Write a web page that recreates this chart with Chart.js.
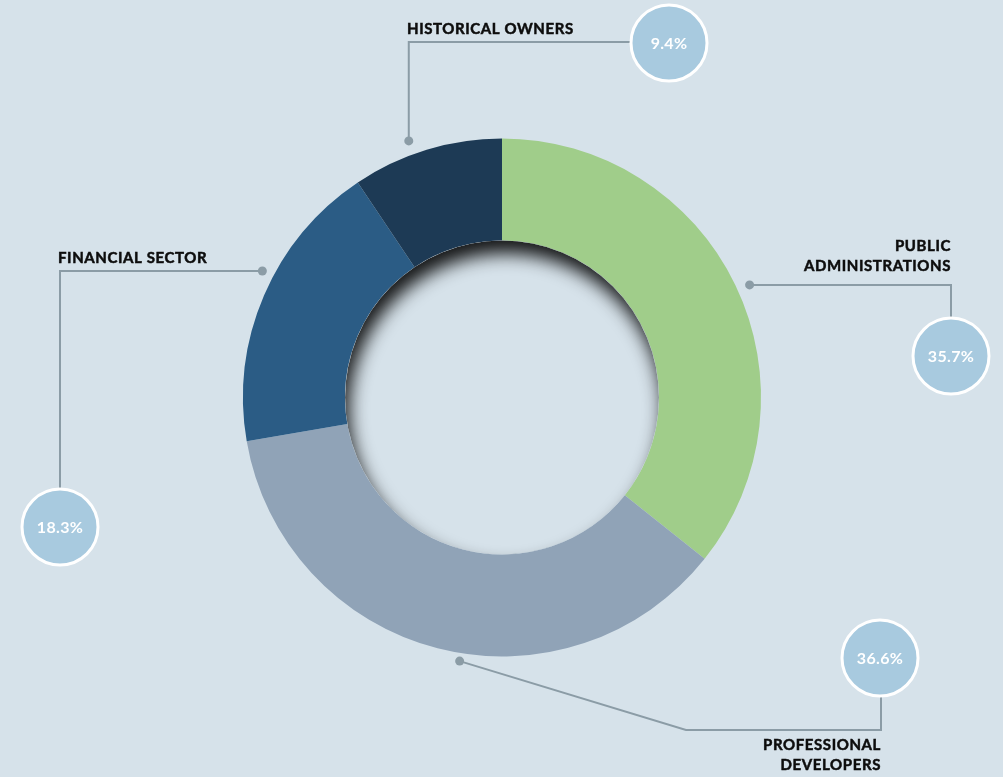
<!DOCTYPE html>
<html>
<head>
<meta charset="utf-8">
<script src="https://cdn.jsdelivr.net/npm/chart.js@4/dist/chart.umd.min.js"></script>
<style>
  html, body { margin: 0; padding: 0; background: #d6e2ea; }
  #wrap { width: 1003px; height: 777px; position: relative; }
</style>
</head>
<body>
<div id="wrap"><canvas id="chart"></canvas></div>
<script>
const categories = ["PUBLIC\nADMINISTRATIONS", "PROFESSIONAL\nDEVELOPERS", "FINANCIAL SECTOR", "HISTORICAL OWNERS"];
const shares = [35.7, 36.6, 18.3, 9.4];
const sliceColors = ['#a0cd8a', '#90a3b7', '#2b5c85', '#1d3a55'];

// callout layout: where along the slice the dot sits, elbow points, bubble centre, text anchor
const callouts = [
  { frac: 0.51, dist: 272, path: [[951, 'dotY'], [951, 317]], bubble: [951, 356], text: [951, 246], align: 'right' },
  { frac: 0.46, dist: 267, path: [[686, 730], [881, 730], [881, 697]], bubble: [880, 658], text: [881, 745], align: 'right' },
  { frac: 0.57, dist: 271, path: [[60, 'dotY'], [60, 488]], bubble: [60, 527], text: [58, 258], align: 'left' },
  { frac: 0.41, dist: 273, path: [['dotX', 42], [630, 42]], bubble: [669, 43], text: [407, 29], align: 'left' }
];

const holeShadow = {
  id: 'holeShadow',
  afterDatasetsDraw(chart) {
    const arc = chart.getDatasetMeta(0).data[0];
    const { x, y, innerRadius } = arc.getProps(['x', 'y', 'innerRadius'], true);
    const ctx = chart.ctx;
    ctx.save();
    ctx.beginPath();
    ctx.arc(x, y, innerRadius, 0, Math.PI * 2);
    ctx.clip();
    ctx.beginPath();
    ctx.arc(x, y, innerRadius + 80, 0, Math.PI * 2);
    ctx.arc(x, y, innerRadius, 0, Math.PI * 2, true);
    ctx.shadowColor = 'rgba(0,0,0,0.9)';
    ctx.shadowBlur = 18;
    ctx.shadowOffsetX = 4;
    ctx.shadowOffsetY = 13;
    ctx.fillStyle = '#d6e2ea';
    ctx.fill();
    ctx.restore();
  }
};

const calloutPlugin = {
  id: 'callouts',
  afterDraw(chart) {
    const ctx = chart.ctx;
    const meta = chart.getDatasetMeta(0);
    meta.data.forEach((arc, i) => {
      const c = callouts[i];
      const p = arc.getProps(['x', 'y', 'startAngle', 'endAngle'], true);
      const a = p.startAngle + (p.endAngle - p.startAngle) * c.frac;
      const dx = p.x + Math.cos(a) * c.dist;
      const dy = p.y + Math.sin(a) * c.dist;

      ctx.save();
      ctx.strokeStyle = '#8b9ca6';
      ctx.lineWidth = 2;
      ctx.beginPath();
      ctx.moveTo(dx, dy);
      c.path.forEach(pt => {
        const px = pt[0] === 'dotX' ? dx : pt[0];
        const py = pt[1] === 'dotY' ? dy : pt[1];
        ctx.lineTo(px, py);
      });
      ctx.stroke();

      ctx.fillStyle = '#8b9ca6';
      ctx.beginPath();
      ctx.arc(dx, dy, 4.5, 0, Math.PI * 2);
      ctx.fill();

      // bubble
      ctx.beginPath();
      ctx.arc(c.bubble[0], c.bubble[1], 38, 0, Math.PI * 2);
      ctx.fillStyle = '#a8cadf';
      ctx.fill();
      ctx.lineWidth = 3;
      ctx.strokeStyle = '#ffffff';
      ctx.stroke();
      ctx.fillStyle = '#ffffff';
      ctx.font = 'bold 16px Lato';
      ctx.letterSpacing = '0.3px';
      ctx.textAlign = 'center';
      ctx.textBaseline = 'middle';
      ctx.fillText(shares[i].toFixed(1) + '%', c.bubble[0], c.bubble[1] + 1);

      // label (thin stroke to thicken the bold face a bit)
      ctx.fillStyle = '#0d0d0d';
      ctx.strokeStyle = '#0d0d0d';
      ctx.lineWidth = 0.5;
      ctx.font = 'bold 15px Lato';
      ctx.letterSpacing = '0.6px';
      ctx.textAlign = c.align;
      const lines = chart.data.labels[i].split('\n');
      lines.forEach((ln, k) => {
        ctx.fillText(ln, c.text[0], c.text[1] + k * 20);
        ctx.strokeText(ln, c.text[0], c.text[1] + k * 20);
      });
      ctx.restore();
    });
  }
};

new Chart(document.getElementById('chart'), {
  type: 'doughnut',
  data: {
    labels: categories,
    datasets: [{
      data: shares,
      backgroundColor: sliceColors,
      borderWidth: 0,
      hoverOffset: 0
    }]
  },
  options: {
    responsive: true,
    maintainAspectRatio: false,
    animation: false,
    cutout: '60.6%',
    layout: { padding: { top: 138, bottom: 120, left: 243, right: 242 } },
    plugins: { legend: { display: false }, tooltip: { enabled: false } }
  },
  plugins: [holeShadow, calloutPlugin]
});
</script>
</body>
</html>
